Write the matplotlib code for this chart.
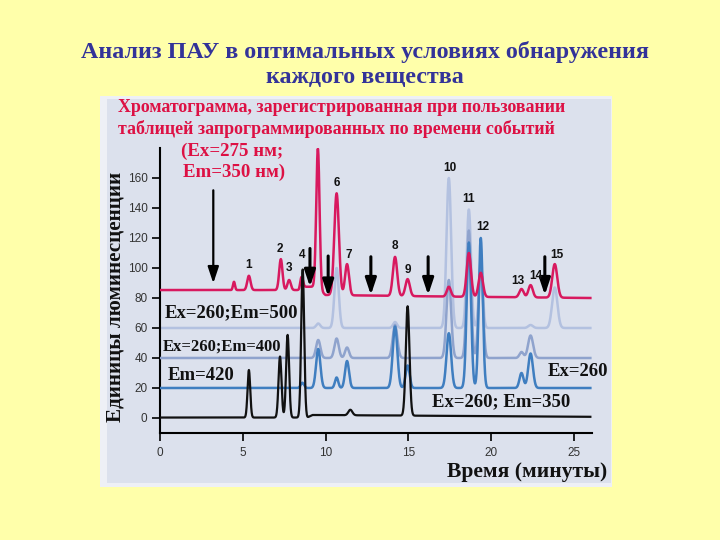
import numpy as np
import matplotlib
matplotlib.use('Agg')
import matplotlib.pyplot as plt
from matplotlib.patches import Rectangle
from matplotlib import font_manager

# ---------------- data ----------------
# time axis (minutes)
t_start, t_end = 0.0, 26.0
x_ticks = [0, 5, 10, 15, 20, 25]
y_ticks = [0, 20, 40, 60, 80, 100, 120, 140, 160]

# pink trace (Ex=275; Em=350) : baseline knots and peaks (time, top value, width)
pink_base_t = [0.0, 8.40, 8.50, 9.40, 10.00, 17.00, 26.0]
pink_base_v = [85.3, 85.3, 87.5, 87.5, 82.0, 81.0, 80.0]
pink_pk_t = [4.47, 5.37, 7.30, 7.80, 8.56, 9.54, 10.67, 11.30, 14.20, 14.96, 17.45, 18.66, 19.38, 21.84, 22.39, 23.85]
pink_pk_top = [90.8, 94.8, 105.9, 92.0, 94.1, 179.5, 149.8, 102.6, 107.4, 92.6, 87.5, 110.0, 96.8, 86.0, 88.6, 102.6]
pink_pk_w = [0.06, 0.10, 0.10, 0.10, 0.08, 0.10, 0.14, 0.12, 0.13, 0.13, 0.12, 0.13, 0.13, 0.13, 0.13, 0.15]

# Ex=260; Em=500 (lightest blue), baseline 60
em500_base_t = [0.0, 26.0]
em500_base_v = [60.0, 60.0]
em500_pk_t = [9.56, 10.67, 14.20, 17.45, 18.66, 19.38, 22.39, 23.85]
em500_pk_top = [63.0, 100.0, 64.0, 160.0, 139.0, 100.0, 62.0, 87.0]
em500_pk_w = [0.12, 0.13, 0.12, 0.14, 0.13, 0.12, 0.14, 0.16]

# Ex=260; Em=400 (grey blue), baseline 40
em400_base_t = [0.0, 26.0]
em400_base_v = [40.0, 40.0]
em400_pk_t = [9.56, 10.67, 11.30, 14.20, 17.45, 18.66, 19.38, 21.84, 22.39]
em400_pk_top = [52.0, 53.0, 47.0, 62.0, 92.0, 125.0, 105.0, 44.0, 55.0]
em400_pk_w = [0.13, 0.13, 0.12, 0.14, 0.14, 0.13, 0.13, 0.12, 0.15]

# Ex=260; Em=420 (blue), baseline 20
em420_base_t = [0.0, 26.0]
em420_base_v = [20.0, 20.0]
em420_pk_t = [8.60, 9.56, 10.67, 11.30, 14.20, 14.96, 17.45, 18.66, 19.38, 21.84, 22.39]
em420_pk_top = [23.5, 46.0, 27.0, 38.0, 61.0, 35.0, 56.5, 117.0, 120.0, 30.0, 43.0]
em420_pk_w = [0.10, 0.13, 0.10, 0.12, 0.14, 0.12, 0.14, 0.13, 0.12, 0.12, 0.14]

# Ex=260; Em=350 (black), baseline 0
em350_base_t = [0.0, 8.90, 9.20, 26.0]
em350_base_v = [0.3, 0.3, 2.0, 0.8]
em350_pk_t = [5.37, 7.25, 7.71, 8.62, 11.50, 14.96]
em350_pk_top = [32.0, 41.0, 55.4, 99.0, 5.5, 74.5]
em350_pk_w = [0.08, 0.09, 0.09, 0.09, 0.12, 0.11]

# peak number labels (time, height)
lab_txt = ['1', '2', '3', '4', '6', '7', '8', '9', '10', '11', '12', '13', '14', '15']
lab_t = [5.37, 7.25, 7.80, 8.60, 10.67, 11.40, 14.20, 15.00, 17.50, 18.66, 19.50, 21.60, 22.70, 23.97]
lab_v = [102, 112.5, 100, 108.6, 157, 108.6, 114.6, 98.6, 166.6, 146, 127, 91.3, 94.6, 108.6]

# arrows of time-programmed events (time, tail value, tip value)
arr_t = [3.22, 9.06, 10.16, 12.74, 16.20, 23.25]
arr_top = [151.8, 113.0, 108.0, 107.5, 107.5, 107.5]
arr_tip = [89.8, 87.5, 81.0, 82.0, 82.0, 82.0]

# ---------------- build traces ----------------
tt = np.linspace(t_start, t_end, 2601)


def trace(bt, bv, pt, ptop, pw):
    base = np.interp(tt, bt, bv)
    y = base.copy()
    for t0, top, w in zip(pt, ptop, pw):
        amp = top - np.interp(t0, bt, bv)
        y += amp * np.exp(-0.5 * ((tt - t0) / w) ** 2)
    return y


y_pink = trace(pink_base_t, pink_base_v, pink_pk_t, pink_pk_top, pink_pk_w)
y500 = trace(em500_base_t, em500_base_v, em500_pk_t, em500_pk_top, em500_pk_w)
y400 = trace(em400_base_t, em400_base_v, em400_pk_t, em400_pk_top, em400_pk_w)
y420 = trace(em420_base_t, em420_base_v, em420_pk_t, em420_pk_top, em420_pk_w)
y350 = trace(em350_base_t, em350_base_v, em350_pk_t, em350_pk_top, em350_pk_w)

# ---------------- figure ----------------
W, H = 720, 540
fig = plt.figure(figsize=(7.2, 5.4), dpi=100, facecolor='#FFFFAA')


def fx(px):
    return px / W


def fy(py):
    return 1 - py / H


serif = 'Liberation Serif'
installed = {f.name for f in font_manager.fontManager.ttflist}
tick_font = 'Liberation Sans Narrow' if 'Liberation Sans Narrow' in installed else 'Liberation Sans'

# slide title
title_col = '#333399'
fig.text(fx(365), fy(52), 'Анализ ПАУ в оптимальных условиях обнаружения',
         ha='center', va='center', fontsize=17.3, fontweight='bold',
         family=serif, color=title_col)
fig.text(fx(365), fy(78), 'каждого вещества',
         ha='center', va='center', fontsize=17.3, fontweight='bold',
         family=serif, color=title_col)

# inset panel
fig.patches.append(Rectangle((fx(100), fy(487)), fx(612) - fx(100), fy(96) - fy(487),
                             transform=fig.transFigure, facecolor='#EEF0F6',
                             edgecolor='none', zorder=-2))
fig.patches.append(Rectangle((fx(107), fy(483)), fx(611) - fx(107), fy(99) - fy(483),
                             transform=fig.transFigure, facecolor='#DCE1ED',
                             edgecolor='none', zorder=-1))

ax = fig.add_axes([fx(160), fy(433), fx(592) - fx(160), fy(148) - fy(433)])
ax.set_facecolor('none')
ax.set_xlim(0, 26.1)
ax.set_ylim(-10, 180)

ax.plot(tt, y500, color='#B3C1E0', lw=1.8, zorder=2)
ax.plot(tt, y400, color='#8FA3CD', lw=1.8, zorder=3)
ax.plot(tt, y420, color='#3F7EC0', lw=1.8, zorder=4)
ax.plot(tt, y_pink, color='#D8195F', lw=1.8, zorder=5)
ax.plot(tt, y350, color='#111111', lw=1.6, zorder=6)

for i, (t0, a, b) in enumerate(zip(arr_t, arr_top, arr_tip)):
    ax.annotate('', xy=(t0, b), xytext=(t0, a),
                arrowprops=dict(arrowstyle='-|>,head_width=0.3,head_length=0.9',
                                lw=1.6 if i == 0 else 2.2, color='black',
                                mutation_scale=11, shrinkA=0, shrinkB=0),
                zorder=7)

for s, t0, v in zip(lab_txt, lab_t, lab_v):
    ax.text(t0, v, s, ha='center', va='center', fontsize=8.5, fontweight='bold',
            family='Liberation Sans', color='#111111', zorder=8)

for side in ['top', 'right']:
    ax.spines[side].set_visible(False)
ax.spines['left'].set_linewidth(1.5)
ax.spines['bottom'].set_linewidth(1.5)
ax.set_xticks(x_ticks)
ax.set_yticks(y_ticks)
ax.tick_params(axis='both', direction='out', length=6, width=1.2,
               labelsize=8.5, labelcolor='#333333', pad=4)
ax.tick_params(axis='y', pad=3)
for lab in ax.get_xticklabels() + ax.get_yticklabels():
    lab.set_family(tick_font)

# inset texts
red = '#DD1144'
fig.text(fx(118), fy(108), 'Хроматограмма, зарегистрированная при пользовании',
         ha='left', va='center', fontsize=12.9, fontweight='bold', family=serif, color=red)
fig.text(fx(118), fy(129), 'таблицей запрограммированных по времени событий',
         ha='left', va='center', fontsize=12.9, fontweight='bold', family=serif, color=red)
fig.text(fx(232), fy(151), '(Ex=275 нм;', ha='center', va='center', fontsize=13.6,
         fontweight='bold', family=serif, color=red)
fig.text(fx(234), fy(172), 'Em=350 нм)', ha='center', va='center', fontsize=13.6,
         fontweight='bold', family=serif, color=red)

fig.text(fx(165), fy(313), 'Ex=260;Em=500', ha='left', va='center', fontsize=13.5,
         fontweight='bold', family=serif, color='#111111')
fig.text(fx(163), fy(347), 'Ex=260;Em=400', ha='left', va='center', fontsize=12,
         fontweight='bold', family=serif, color='#111111')
fig.text(fx(168), fy(375), 'Em=420', ha='left', va='center', fontsize=13.5,
         fontweight='bold', family=serif, color='#111111')
fig.text(fx(548), fy(372), 'Ex=260', ha='left', va='center', fontsize=13.5,
         fontweight='bold', family=serif, color='#111111')
fig.text(fx(432), fy(402), 'Ex=260; Em=350', ha='left', va='center', fontsize=13.5,
         fontweight='bold', family=serif, color='#111111')

fig.text(fx(116), fy(297), 'Единицы люминесценции', ha='center', va='center',
         rotation=90, fontsize=15.2, fontweight='bold', family=serif, color='#111111')
fig.text(fx(607), fy(472), 'Время (минуты)', ha='right', va='center',
         fontsize=15.5, fontweight='bold', family=serif, color='#111111')

fig.savefig('out.png', dpi=100, facecolor=fig.get_facecolor())
